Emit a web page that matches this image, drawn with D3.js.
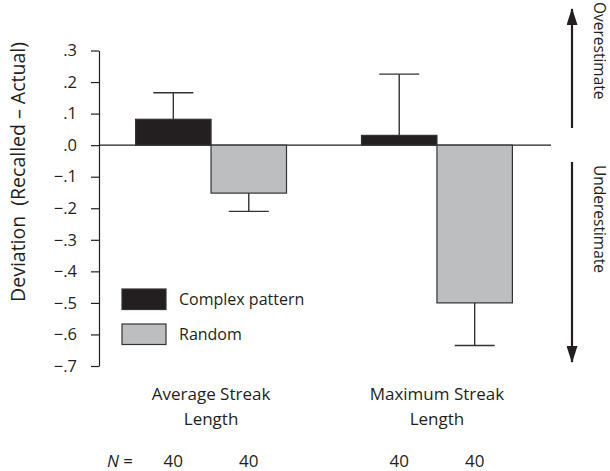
<!DOCTYPE html>
<meta charset="utf-8">
<style>
body { margin: 0; background: #fff; }
svg { font-family: "Open Sans", "Noto Sans", Arial, sans-serif; }
text { fill: #231f20; }
.axis path, .axis line { stroke: #231f20; stroke-width: 1.2; }
.axis text { font-size: 16.5px; fill: #231f20; font-family: "Open Sans", Arial, sans-serif; }
.err { stroke: #333; stroke-width: 1.4; fill: none; }
</style>
<svg width="610" height="471"></svg>
<script src="https://cdnjs.cloudflare.com/ajax/libs/d3/7.8.5/d3.min.js"></script>
<script>

var categories = ["Average Streak Length", "Maximum Streak Length"];
var categoryLines = [["Average Streak", "Length"], ["Maximum Streak", "Length"]];
var series = ["Complex pattern", "Random"];
var complexMeans = [0.082, 0.031];
var complexErr = [0.084, 0.194];
var randomMeans = [-0.152, -0.500];
var randomErr = [0.058, 0.135];
var nComplex = [40, 40];
var nRandom = [40, 40];
var yTicks = [0.3, 0.2, 0.1, 0, -0.1, -0.2, -0.3, -0.4, -0.5, -0.6, -0.7];

var colors = { "Complex pattern": "#231f20", "Random": "#bcbec0" };

var svg = d3.select("svg");

var x0 = d3.scaleBand().domain(categories).range([99, 549])
    .paddingInner(0.332).paddingOuter(0.162);
var x1 = d3.scaleBand().domain(series).range([0, x0.bandwidth()]);
var y = d3.scaleLinear().domain([-0.7, 0.3]).range([366, 50.5]);

// y axis
var fmt = d3.format(".1f");
svg.append("g")
    .attr("class", "axis")
    .attr("transform", "translate(99,0)")
    .call(d3.axisLeft(y).tickValues(yTicks).tickSize(8).tickSizeOuter(0).tickPadding(14)
        .tickFormat(function(d) { return fmt(d).replace("0.", "."); }));

svg.append("text")
    .attr("transform", "translate(25,172) rotate(-90)")
    .attr("text-anchor", "middle")
    .style("font-size", "19.5px")
    .text("Deviation\u00a0 (Recalled \u2013 Actual)");

// zero line
svg.append("line")
    .attr("x1", 99).attr("x2", 551)
    .attr("y1", y(0)).attr("y2", y(0))
    .attr("stroke", "#231f20").attr("stroke-width", 1.2);

var rows = [];
categories.forEach(function(c, i) {
  rows.push({ cat: c, s: "Complex pattern", v: complexMeans[i], e: complexErr[i], n: nComplex[i] });
  rows.push({ cat: c, s: "Random", v: randomMeans[i], e: randomErr[i], n: nRandom[i] });
});

// bars
svg.selectAll(".bar").data(rows).enter().append("rect")
    .attr("class", "bar")
    .attr("x", function(d) { return x0(d.cat) + x1(d.s); })
    .attr("width", x1.bandwidth())
    .attr("y", function(d) { return y(Math.max(0, d.v)); })
    .attr("height", function(d) { return Math.abs(y(d.v) - y(0)); })
    .attr("fill", function(d) { return colors[d.s]; })
    .attr("stroke", "#333").attr("stroke-width", 1.2);

// error bars (outward only)
function cx(d) { return x0(d.cat) + x1(d.s) + x1.bandwidth() / 2; }
function tip(d) { return y(d.v + (d.v >= 0 ? d.e : -d.e)); }
var eb = svg.selectAll(".eb").data(rows).enter().append("g").attr("class", "err");
eb.append("line")
    .attr("x1", cx).attr("x2", cx)
    .attr("y1", function(d) { return y(d.v); })
    .attr("y2", tip);
eb.append("line")
    .attr("x1", function(d) { return cx(d) - 20; })
    .attr("x2", function(d) { return cx(d) + 20; })
    .attr("y1", tip).attr("y2", tip);

// legend
var leg = svg.selectAll(".leg").data(series).enter().append("g")
    .attr("transform", function(d, i) { return "translate(122," + (289 + i * 35) + ")"; });
leg.append("rect").attr("width", 44).attr("height", 20.5)
    .attr("fill", function(d) { return colors[d]; })
    .attr("stroke", "#333").attr("stroke-width", 1.2);
leg.append("text").attr("x", 57).attr("y", 10.5).attr("dy", "0.35em")
    .style("font-size", "16px").text(function(d) { return d; });

// category labels
categories.forEach(function(c, i) {
  var mx = x0(c) + x0.bandwidth() / 2;
  categoryLines[i].forEach(function(line, j) {
    svg.append("text").attr("x", mx).attr("y", 400 + j * 25)
        .attr("text-anchor", "middle").style("font-size", "17px").text(line);
  });
});

// N row
var nt = svg.append("text").attr("x", 133).attr("y", 467)
    .attr("text-anchor", "end").style("font-size", "17px");
nt.append("tspan").style("font-style", "italic").text("N");
nt.append("tspan").text("\u00a0=");
svg.selectAll(".nlab").data(rows).enter().append("text")
    .attr("x", cx)
    .attr("y", 467).attr("text-anchor", "middle").style("font-size", "17px")
    .text(function(d) { return d.n; });

// right-side arrows
var defs = svg.append("defs");
defs.append("marker").attr("id", "ah").attr("viewBox", "0 0 17 11")
    .attr("refX", 16).attr("refY", 5.5).attr("markerWidth", 17).attr("markerHeight", 11)
    .attr("markerUnits", "userSpaceOnUse").attr("orient", "auto")
    .append("path").attr("d", "M0,0L17,5.5L0,11Z").attr("fill", "#231f20");

svg.append("line").attr("x1", 572).attr("x2", 572).attr("y1", 128).attr("y2", 9)
    .attr("stroke", "#231f20").attr("stroke-width", 2.2).attr("marker-end", "url(#ah)");
svg.append("line").attr("x1", 572).attr("x2", 572).attr("y1", 162).attr("y2", 362)
    .attr("stroke", "#231f20").attr("stroke-width", 2.2).attr("marker-end", "url(#ah)");

svg.append("text").attr("transform", "translate(594,2) rotate(90)")
    .style("font-size", "15.5px").text("Overestimate");
svg.append("text").attr("transform", "translate(594,165) rotate(90)")
    .style("font-size", "15.5px").text("Underestimate");

</script>
